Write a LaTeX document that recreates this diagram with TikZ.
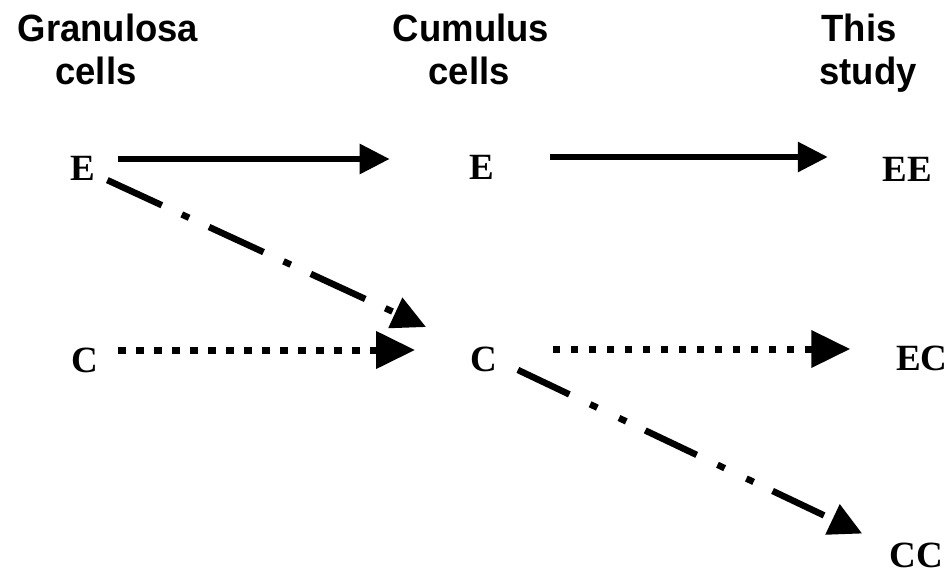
\documentclass[tikz,border=0pt]{standalone}
\usepackage{fontspec}
\setmainfont{Liberation Serif}
\newfontfamily\hdrfont{Liberation Sans}
\usetikzlibrary{arrows.meta}
\tikzset{
  hdr/.style={anchor=base,inner sep=0pt,outer sep=0pt,font=\hdrfont\bfseries\fontsize{38}{43}\selectfont},
  let/.style={anchor=center,inner sep=0pt,outer sep=0pt,font=\bfseries\fontsize{37}{40}\selectfont},
  solidarrow/.style={line width=6pt,line cap=butt,-{Triangle[length=30pt,width=29pt]}},
  dotarrow/.style={line width=7pt,line cap=butt,dash pattern=on 7.5pt off 10.5pt,-{Triangle[length=39pt,width=36pt]}},
  dashdotarrow/.style={line width=6.5pt,line cap=butt,dash pattern=on 60pt off 22pt on 8pt off 22pt,-{Triangle[length=34pt,width=32pt]}},
  dashdotdotarrow/.style={line width=6.5pt,line cap=butt,dash pattern=on 57pt off 23pt on 8pt off 24pt on 8pt off 21pt,-{Triangle[length=33pt,width=32pt]}}
}
\begin{document}
\begin{tikzpicture}[x=1pt,y=-1pt]
\useasboundingbox[fill=white] (0,0) rectangle (951,575);
% headers
\node[hdr] (h1a) at (108,42) {\scalebox{0.96}[1]{Granulosa}};
\node[hdr] (h1b) at (96,85) {\scalebox{0.96}[1]{cells}};
\node[hdr] (h2a) at (471,42) {\scalebox{0.96}[1]{Cumulus}};
\node[hdr] (h2b) at (469,85) {\scalebox{0.96}[1]{cells}};
\node[hdr] (h3a) at (859,42) {\scalebox{0.96}[1]{This}};
\node[hdr] (h3b) at (868,85) {\scalebox{0.96}[1]{study}};
% letters
\node[let] (gE) at (83,168) {E};
\node[let] (gC) at (85,360) {C};
\node[let] (cE) at (482,167) {E};
\node[let] (cC) at (483.5,359.5) {C};
\node[let] (EE) at (907.5,169) {EE};
\node[let] (EC) at (922,358) {EC};
\node[let] (CC) at (916,555) {CC};
% connectors
\draw[solidarrow] ([shift={(23,-9)}]gE.east) -- ([shift={(-80,-8)}]cE.west);
\draw[solidarrow] ([shift={(56,-10)}]cE.east) -- ([shift={(-55,-12)}]EE.west);
\draw[dotarrow] ([shift={(20,-10)}]gC.east) -- ([shift={(-55,-9.5)}]cC.west);
\draw[dotarrow] ([shift={(56,-10.5)}]cC.east) -- ([shift={(-46,-9)}]EC.west);
\draw[dashdotarrow] ([shift={(12,0)}]gE.south east) -- ([shift={(-44,-20)}]cC.north west);
\draw[dashdotdotarrow] ([shift={(21,-2)}]cC.south east) -- ([shift={(-27,-9)}]CC.north west);
\end{tikzpicture}
\end{document}
